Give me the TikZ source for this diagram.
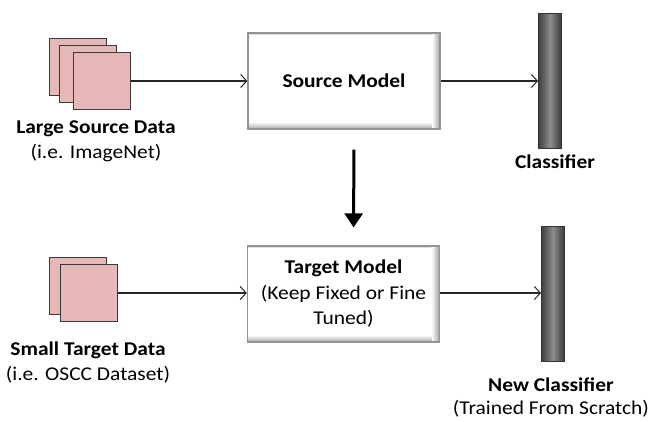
\documentclass[tikz,border=0pt]{standalone}
\usepackage{fontspec}
\setmainfont{Carlito}[FakeStretch=1.1]
\usetikzlibrary{positioning,arrows.meta}
\definecolor{cardpink}{HTML}{E6B9B8}
\definecolor{cardline}{HTML}{3A3A3A}
\tikzset{
  card/.style={draw=cardline, line width=1.3pt, fill=cardpink, minimum size=57pt, inner sep=0pt},
  model/.style={draw=gray!85, line width=1.3pt, fill=white, minimum width=192pt, minimum height=96pt,
    align=center, inner sep=0pt,
    path picture={
      \fill[gray!25] (path picture bounding box.north west) rectangle ([yshift=-2pt]path picture bounding box.north east);
      \shade[left color=white, right color=gray!75] ([xshift=-8pt]path picture bounding box.north east) rectangle (path picture bounding box.south east);
      \shade[top color=white, bottom color=gray!70] ([yshift=7pt]path picture bounding box.south west) rectangle ([xshift=-8pt]path picture bounding box.south east);
    }},
  bar/.style={draw=black!80, line width=0.8pt, minimum width=23pt, minimum height=135pt, inner sep=0pt,
    left color=black!75, right color=black!78, middle color=black!45},
  caption/.style={align=center, inner sep=2pt},
  thinarrow/.style={draw=black!85, line width=1.2pt, -{Straight Barb[length=6pt, width=13pt, line width=1pt]}},
  bigarrow/.style={draw=black, line width=3pt, -{Triangle[length=14pt, width=18pt]}}
}
\begin{document}
\begin{tikzpicture}[x=1pt, y=-1pt, font=\fontsize{19.5}{25.5}\selectfont]
  \useasboundingbox (0,0) rectangle (650,421);
  \node [card] (ls1) at (78,67) {};
  \node [card] (ls2) at (88,74) {};
  \node [card] (ls3) at (102,81) {};
  \node [model] (srcmodel) at (344,81) {\textbf{Source Model}};
  \node [bar] (cls) at (550,80.5) {};
  \node [card] (st1) at (78,286) {};
  \node [card] (st2) at (89,293) {};
  \node [model] (tgtmodel) at (343.5,294) {\textbf{Target Model}\\(Keep Fixed or Fine\\Tuned)};
  \node [bar] (newcls) at (553,294) {};
  \draw [thinarrow] (ls3) -- (srcmodel);
  \draw [thinarrow] (srcmodel) -- (srcmodel -| cls.west);
  \draw [thinarrow] (st2) -- (st2 -| tgtmodel.west);
  \draw [thinarrow] (st2 -| tgtmodel.east) -- (st2 -| newcls.west);
  \draw [bigarrow, shorten <=20pt, shorten >=18pt] ([xshift=10pt]srcmodel.south) -- ([xshift=10pt]tgtmodel.north);
  \node [caption, below=8pt of ls3, xshift=-6pt] {\textbf{Large Source Data}\\(i.e. ImageNet)};
  \node [caption, below=4pt of cls, xshift=5pt] {\textbf{Classifier}};
  \node [caption, below=17pt of st2, xshift=-1pt] {\textbf{Small Target Data}\\(i.e. OSCC Dataset)};
  \node [caption, below=16pt of newcls, xshift=-2pt, inner sep=0pt, font=\fontsize{19.5}{23}\selectfont] {\textbf{New Classifier}\\(Trained From Scratch)};
\end{tikzpicture}
\end{document}
